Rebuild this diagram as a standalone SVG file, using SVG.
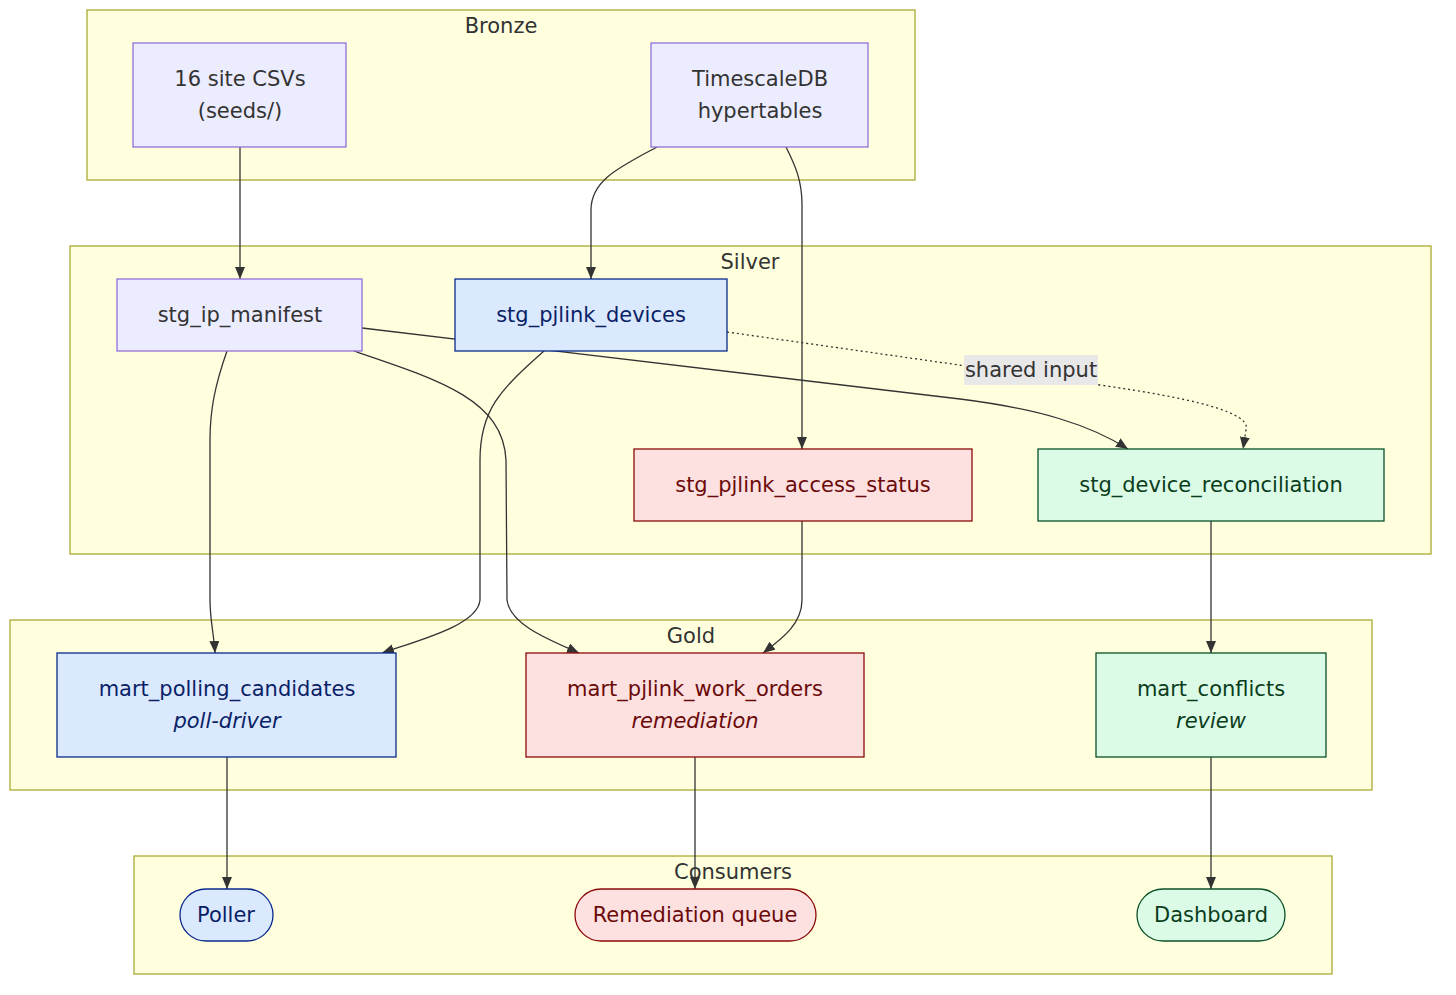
<svg xmlns="http://www.w3.org/2000/svg" width="1456" height="995" viewBox="0 0 1456 995">
<style>
text{font-family:"DejaVu Sans","Liberation Sans",sans-serif;font-size:21px;text-anchor:middle}
.cl{fill:#ffffde;stroke:#aaaa33;stroke-width:1.3}
.ct{fill:#333}
.def rect{fill:#ececff;stroke:#9370db;stroke-width:1.3}
.def text{fill:#333}
.blue rect{fill:#dbe9fe;stroke:#0a2a8c;stroke-width:1.3}
.blue text{fill:#0a1f66}
.red rect{fill:#fde1e1;stroke:#8b0a0a;stroke-width:1.3}
.red text{fill:#6b0a0a}
.green rect{fill:#dcfbe7;stroke:#0a5028;stroke-width:1.3}
.green text{fill:#0a3d1c}
.it{font-style:italic}
.e{fill:none;stroke:#333;stroke-width:1.3;marker-end:url(#arr)}
.dot{stroke-dasharray:2 3}
</style>
<defs>
<marker id="arr" viewBox="0 0 12 10" refX="12" refY="5" markerWidth="12" markerHeight="10" markerUnits="userSpaceOnUse" orient="auto">
<path d="M0,0 L12,5 L0,10 z" fill="#333"/>
</marker>
</defs>
<rect width="1456" height="995" fill="#fff"/>
<g id="clusters">
<g id="bronze"><rect class="cl" x="87" y="10" width="828" height="170"/><text class="ct" x="501" y="33">Bronze</text></g>
<g id="silver"><rect class="cl" x="70" y="246" width="1361" height="308"/><text class="ct" x="750" y="269">Silver</text></g>
<g id="gold"><rect class="cl" x="10" y="620" width="1362" height="170"/><text class="ct" x="691" y="643">Gold</text></g>
<g id="consumers"><rect class="cl" x="134" y="856" width="1198" height="118"/><text class="ct" x="733" y="879">Consumers</text></g>
</g>
<g id="edges">
<path class="e" d="M240,147 L240,279"/>
<path class="e" d="M657,147 C620,167 591,180 591,210 L591,279"/>
<path class="e" d="M786,147 C795,165 802,180 802,205 L802,449"/>
<path class="e" d="M362,328 L960,399 C1040,409 1090,425 1128,449"/>
<path class="e dot" d="M727,332 L1100,385 C1190,398 1252,412 1246,430 L1243,449"/>
<path class="e" d="M227,351 C215,385 210,410 210,440 L210,600 C210,620 214,635 215,653"/>
<path class="e" d="M354,351 C440,380 503,400 506,460 L507,600 C510,625 550,640 579,653"/>
<path class="e" d="M544,351 C500,390 480,410 480,460 L480,600 C478,625 420,640 382,653"/>
<path class="e" d="M802,521 L802,600 C802,625 780,640 763,653"/>
<path class="e" d="M1211,521 L1211,653"/>
<path class="e" d="M227,757 L227,889"/>
<path class="e" d="M695,757 L695,889"/>
<path class="e" d="M1211,757 L1211,889"/>
<g id="edge-label"><rect x="964" y="355" width="134" height="30" fill="#e8e8e8"/><text x="1031" y="377" fill="#333">shared input</text></g>
</g>
<g id="csv" class="def"><rect x="133" y="43" width="213" height="104"/><text x="240" y="86">16 site CSVs</text><text x="240" y="118">(seeds/)</text></g>
<g id="tsdb" class="def"><rect x="651" y="43" width="217" height="104"/><text x="760" y="86">TimescaleDB</text><text x="760" y="118">hypertables</text></g>
<g id="stg_ip_manifest" class="def"><rect x="117" y="279" width="245" height="72"/><text x="240" y="322">stg_ip_manifest</text></g>
<g id="stg_pjlink_devices" class="blue"><rect x="455" y="279" width="272" height="72"/><text x="591" y="322">stg_pjlink_devices</text></g>
<g id="stg_pjlink_access_status" class="red"><rect x="634" y="449" width="338" height="72"/><text x="803" y="492">stg_pjlink_access_status</text></g>
<g id="stg_device_reconciliation" class="green"><rect x="1038" y="449" width="346" height="72"/><text x="1211" y="492">stg_device_reconciliation</text></g>
<g id="mart_polling_candidates" class="blue"><rect x="57" y="653" width="339" height="104"/><text x="227" y="696">mart_polling_candidates</text><text class="it" x="227" y="728">poll-driver</text></g>
<g id="mart_pjlink_work_orders" class="red"><rect x="526" y="653" width="338" height="104"/><text x="695" y="696">mart_pjlink_work_orders</text><text class="it" x="695" y="728">remediation</text></g>
<g id="mart_conflicts" class="green"><rect x="1096" y="653" width="230" height="104"/><text x="1211" y="696">mart_conflicts</text><text class="it" x="1211" y="728">review</text></g>
<g id="poller" class="blue"><rect x="180" y="889" width="93" height="52" rx="26"/><text x="226" y="922">Poller</text></g>
<g id="remediation_queue" class="red"><rect x="575" y="889" width="241" height="52" rx="26"/><text x="695" y="922">Remediation queue</text></g>
<g id="dashboard" class="green"><rect x="1137" y="889" width="148" height="52" rx="26"/><text x="1211" y="922">Dashboard</text></g>
</svg>
